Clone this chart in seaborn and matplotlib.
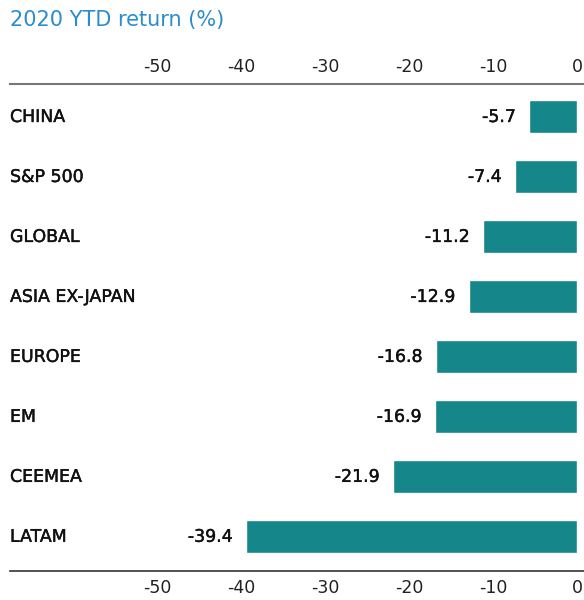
import matplotlib
matplotlib.use("Agg")
import matplotlib.pyplot as plt
import matplotlib.patheffects as pe
import pandas as pd
import seaborn as sns

markets = ["CHINA", "S&P 500", "GLOBAL", "ASIA EX-JAPAN", "EUROPE", "EM", "CEEMEA", "LATAM"]
returns = [-5.7, -7.4, -11.2, -12.9, -16.8, -16.9, -21.9, -39.4]
ticks = [-50, -40, -30, -20, -10, 0]

sns.set_style("white")
plt.rcParams['font.family'] = ["DejaVu Sans"]

df = pd.DataFrame({"Market": markets, "Return": returns})

fig = plt.figure(figsize=(5.84, 6), dpi=100)
ax = fig.add_axes([10 / 584, 29 / 600, 574 / 584, 487 / 600])

sns.barplot(data=df, x="Return", y="Market", orient="h", color="#15878a",
            saturation=1, width=0.55, ax=ax)

ax.set_xlim(-67.5, 0.8)
ax.set_ylim(7.57, -0.55)
ax.set_xticks(ticks)
ax.set_xticklabels([str(t) for t in ticks], fontsize=12.5, color="#222222")
ax.tick_params(axis="x", length=0, pad=6, top=True, labeltop=True, bottom=True, labelbottom=True)
ax.set_yticks([])
ax.set_xlabel("")
ax.set_ylabel("")

for s in ["left", "right"]:
    ax.spines[s].set_visible(False)
ax.spines["top"].set_color("#777777")
ax.spines["top"].set_linewidth(1.5)
ax.spines["bottom"].set_color("#333333")
ax.spines["bottom"].set_linewidth(1.2)

# a touch heavier than regular, like the medium weight in the original
thick = [pe.withStroke(linewidth=0.3, foreground="#111111")]

for i, (m, v) in enumerate(zip(markets, returns)):
    ax.text(-67.5, i, m, ha="left", va="center", fontsize=12.5, color="#111111",
            path_effects=thick)
    ax.text(v - 1.6, i, f"{v}", ha="right", va="center", fontsize=12.5,
            color="#111111", path_effects=thick)

fig.text(10 / 584, 1 - 20 / 600, "2020 YTD return (%)", ha="left", va="center",
         fontsize=15, color="#2b8ccf")

fig.savefig("out.png", dpi=100)
